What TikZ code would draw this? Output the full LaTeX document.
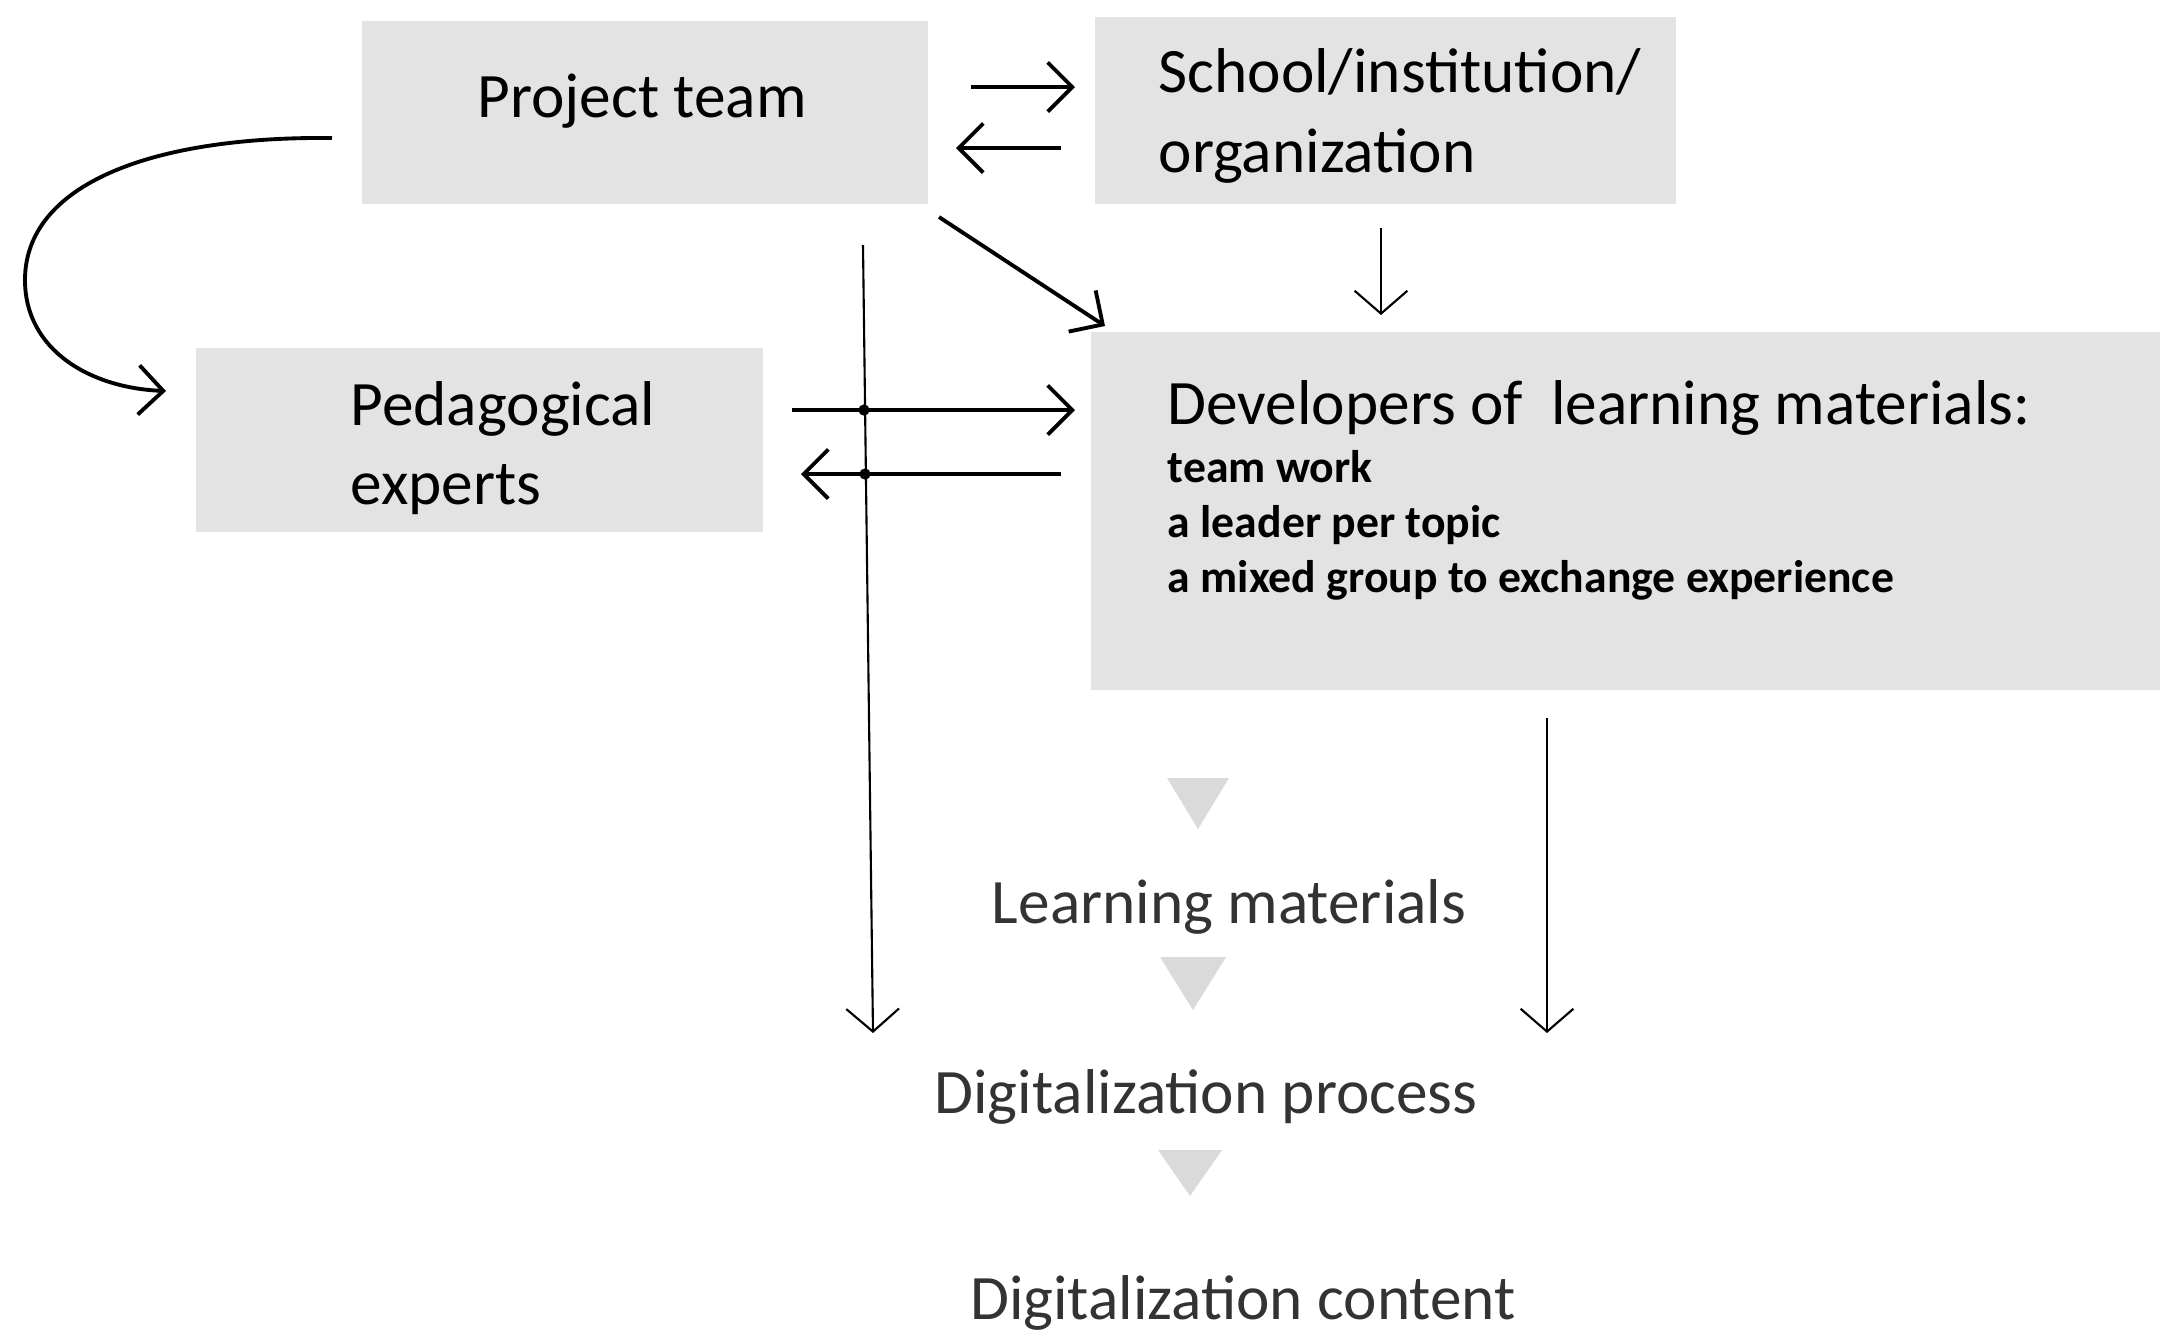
\documentclass[tikz,border=0pt]{standalone}
\usepackage{fontspec}
\setmainfont{Carlito}
\usetikzlibrary{arrows.meta}
\definecolor{boxgray}{HTML}{E3E3E3}
\definecolor{trigray}{HTML}{DADADA}
\definecolor{softtext}{HTML}{333333}
\begin{document}
\begin{tikzpicture}[x=0.01cm,y=-0.01cm,
  box/.style={fill=boxgray, inner sep=0pt, outer sep=0pt},
  lbl/.style={font=\fontsize{18}{22.5}\selectfont, align=left, inner sep=0pt},
  bullets/.style={font=\fontsize{13}{15.6}\selectfont\bfseries, align=left, inner sep=0pt},
  soft/.style={font=\fontsize{18}{22}\selectfont, text=softtext, inner sep=0pt},
  tri/.style={fill=trigray},
  thickarr/.style={line width=1.1pt, -{Straight Barb[length=7pt,width=14pt]}},
  thinarr/.style={line width=0.6pt, -{Straight Barb[length=6.5pt,width=15pt]}},
  jdot/.style={circle, fill=black, inner sep=0pt, minimum size=3.2pt}]
\useasboundingbox (0,0) rectangle (2166,1335);

% boxes
\node[box, minimum width=5.66cm, minimum height=1.83cm] (pt) at (645,112.5) {};
\node[box, minimum width=5.81cm, minimum height=1.87cm] (sch) at (1385.5,110.5) {};
\node[box, minimum width=10.69cm, minimum height=3.58cm] (dev) at (1625.5,511) {};
\node[box, minimum width=5.67cm, minimum height=1.84cm] (ped) at (479.5,440) {};

% box texts
\node[lbl] (ptt) at (642,101) {Project team};
\node[lbl, anchor=west] (scht) at (1158,116) {School/institution/\\organization};
\node[lbl, anchor=west] (pedt) at (350,448) {Pedagogical\\experts};
\node[lbl, anchor=west] (devt) at (1167,408) {Developers of\ \ learning materials:};
\node[bullets, anchor=north west] (devb) at (1167,450) {team work\\a leader per topic\\a mixed group to exchange experience};

% lower flow
\fill[tri] (1167,778) -- (1229,778) -- (1198,829) -- cycle;
\node[soft] (lm) at (1229,907) {Learning materials};
\fill[tri] (1160,957) -- (1226,957) -- (1193,1010) -- cycle;
\node[soft] (dp) at (1206,1097) {Digitalization process};
\fill[tri] (1158,1150) -- (1222,1150) -- (1190,1196) -- cycle;
\node[soft] (dc) at (1243,1303) {Digitalization content};

% arrow end points
\coordinate (a1s) at (971,87);   \coordinate (a1e) at (1075,87);
\coordinate (a2s) at (1061,148); \coordinate (a2e) at (956,148);
\coordinate (a3s) at (939,217);  \coordinate (a3e) at (1105,326);
\coordinate (a4s) at (1381,228); \coordinate (a4e) at (1381,315);
\coordinate (a5s) at (792,410);  \coordinate (a5e) at (1075,410);
\coordinate (a6s) at (1061,474); \coordinate (a6e) at (801,474);
\coordinate (a7s) at (863,245);  \coordinate (a7e) at (873,1033);
\coordinate (a8s) at (1547,718); \coordinate (a8e) at (1547,1033);
\coordinate (cs) at (332,138);   \coordinate (ce) at (166,391);

% connectors
\draw[thickarr] (a1s) -- (a1e);
\draw[thickarr] (a2s) -- (a2e);
\draw[thickarr] (a3s) -- (a3e);
\draw[thinarr] (a4s) -- (a4e);
\draw[thickarr] (a5s) -- (a5e);
\draw[thickarr] (a6s) -- (a6e);
\draw[thinarr] (a7s) -- (a7e);
\draw[thinarr] (a8s) -- (a8e);
\draw[thickarr] (cs) .. controls (150,136) and (25,185) .. (25,280)
  .. controls (25,350) and (90,388) .. (ce);

\node[jdot] (j1) at (864,410) {};
\node[jdot] (j2) at (865,474) {};
\end{tikzpicture}
\end{document}
